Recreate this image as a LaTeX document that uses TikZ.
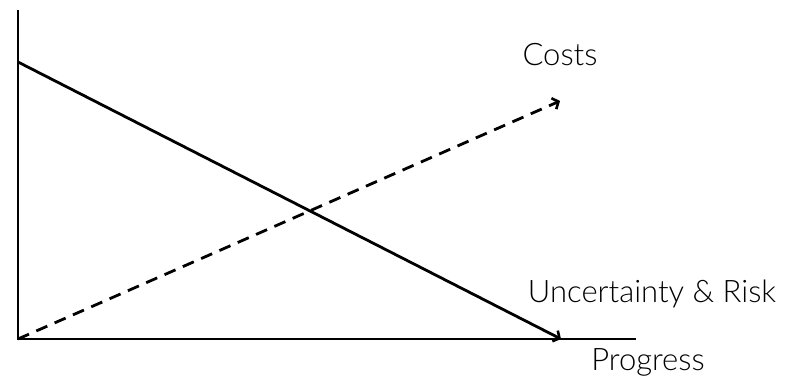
\documentclass[tikz,border=0pt]{standalone}
\usepackage{fontspec}
\setmainfont{Lato}[UprightFont=* Light]
\usetikzlibrary{arrows.meta}
\begin{document}
\begin{tikzpicture}[x=1pt,y=-1pt,
  axis/.style={line width=2.8pt},
  curve/.style={line width=2.8pt,-{Straight Barb[length=5pt,width=12pt,line width=2.6pt]}},
  lbl/.style={anchor=base,inner sep=0pt,font=\fontsize{31}{36}\selectfont}]
\useasboundingbox (0,0) rectangle (787,387);
\coordinate (ytop) at (18,10);
\coordinate (o) at (18,339);
\coordinate (xend) at (636,339);
\coordinate (ustart) at (18,62);
\coordinate (uend) at (561,339);
\coordinate (cend) at (560,101);
\draw[axis] (ytop) -- (o) -- (xend);
\draw[curve] (ustart) -- (uend);
\draw[curve,dash pattern=on 12pt off 8pt] (o) -- (cend);
\node[lbl] (costs) at (560,66) {Costs};
\node[lbl] (unc) at (652,302) {Uncertainty \& Risk};
\node[lbl] (prog) at (648,370) {Progress};
\end{tikzpicture}
\end{document}
